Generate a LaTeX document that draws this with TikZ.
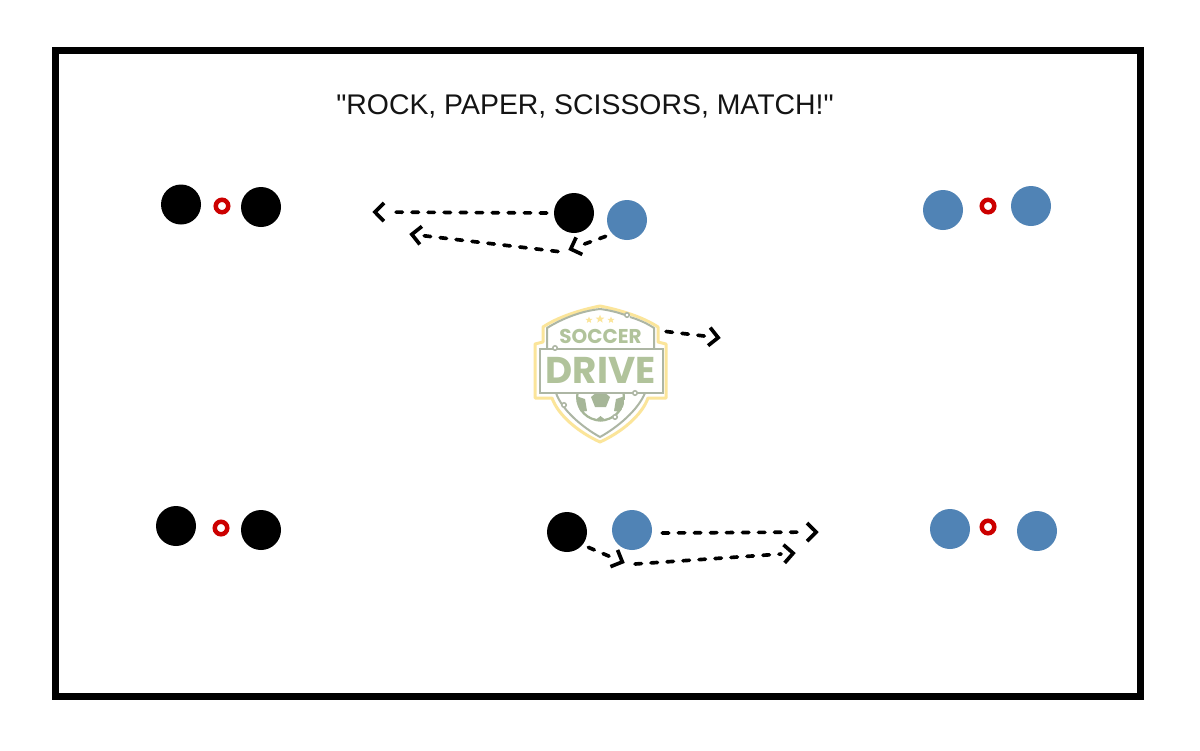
\documentclass[tikz,border=0pt]{standalone}
\usepackage{fontspec}
\newfontfamily\titlefont{Liberation Sans}
\newfontfamily\logofont{Poppins}
\usetikzlibrary{arrows.meta}
\newdimen\px \px=0.025cm
\definecolor{teamblue}{HTML}{5083B5}
\definecolor{conered}{HTML}{CC0000}
\definecolor{logoyellow}{HTML}{FBE59A}
\definecolor{logogray}{HTML}{ADB6A4}
\definecolor{logogreen}{HTML}{B1C39B}
\definecolor{logoball}{HTML}{A6B698}
\pgfdeclarearrow{
  name=Chev,
  parameters={\the\pgfarrowlength},
  setup code={
    \pgfarrowssettipend{0pt}
    \pgfarrowssetlineend{-1.25\pgfarrowlength}
    \pgfarrowssetvisualbackend{-\pgfarrowlength}
    \pgfarrowssetbackend{-\pgfarrowlength}
    \pgfarrowshullpoint{0pt}{0pt}
    \pgfarrowshullpoint{-\pgfarrowlength}{\pgfarrowlength}
    \pgfarrowshullpoint{-\pgfarrowlength}{-\pgfarrowlength}
    \pgfarrowssavethe\pgfarrowlength
  },
  drawing code={
    \pgfsetdash{}{0pt}
    \pgfsetbuttcap
    \pgfsetmiterjoin
    \pgfpathmoveto{\pgfpoint{-\pgfarrowlength}{0.76\pgfarrowlength}}
    \pgfpathlineto{\pgfpoint{-0.24\pgfarrowlength}{0pt}}
    \pgfpathlineto{\pgfpoint{-\pgfarrowlength}{-0.76\pgfarrowlength}}
    \pgfusepathqstroke
  },
  defaults={length=8.5pt}
}
\tikzset{
  x=0.025cm,y=-0.025cm,
  blackplayer/.style={circle,fill=black,draw=none,minimum size=40\px,inner sep=0pt},
  blueplayer/.style={circle,fill=teamblue,draw=none,minimum size=40\px,inner sep=0pt},
  cone/.style={circle,draw=conered,fill=white,line width=4.5\px,minimum size=12.5\px,inner sep=0pt},
  run/.style={line width=2.6pt,line cap=round,dash pattern=on 4.6pt off 6.8pt,-{Chev}},
  logoknob/.style={circle,draw=logogray,fill=white,line width=1.5\px,minimum size=4.5\px,inner sep=0pt},
  logostar/.style={fill=logoyellow,draw=none},
}
\begin{document}
\begin{tikzpicture}
\useasboundingbox (0,0) rectangle (1200,750);
\fill[white] (0,0) rectangle (1200,750);
\node[draw=black,line width=7\px,minimum width=1085\px,minimum height=646.5\px,inner sep=0pt] (frame) at (598,373.7) {};
\node[font=\titlefont\fontsize{20.2pt}{23pt}\selectfont,text=black!92] (title) at (585,106) {"ROCK, PAPER, SCISSORS, MATCH!"};

% logo: outer shield
\draw[logoyellow,line width=3\px,fill=white,line join=round]
  (600,306) .. controls (580,310) and (558,317) .. (543,327) -- (543,342) -- (535,344) -- (535,398) -- (552,398)
  .. controls (558,415) and (578,432) .. (600,442)
  .. controls (622,432) and (642,415) .. (648,398) -- (666,398) -- (666,344) -- (658,342) -- (658,327)
  .. controls (643,317) and (620,310) .. (600,306) -- cycle;
% logo: inner shield
\draw[logogray,line width=2\px,line join=round]
  (625,315) .. controls (617,312) and (608,310) .. (600,309) .. controls (582,311) and (563,318) .. (547,328) -- (547,350);
\draw[logogray,line width=2\px] (630,317) .. controls (640,320) and (648,324) .. (654,328) -- (654,350);
\draw[logogray,line width=2\px]
  (556,393) .. controls (562,410) and (582,427) .. (600,437) .. controls (618,427) and (638,410) .. (645,393);
% logo: ball
\begin{scope}
  \clip (600.5,397) circle (24.5);
  \fill[white] (575,385) rectangle (626,422);
  \draw[logoball,line width=2.5\px] (600.5,397) circle (23.5);
  \fill[logoball] (600.5,389) -- (610,397) -- (606,407) -- (595,407) -- (591,397) -- cycle;
  \fill[logoball] (576,396) -- (585,399) -- (587,411) -- (580,412) -- cycle;
  \fill[logoball] (625,396) -- (616,399) -- (614,411) -- (621,412) -- cycle;
  \fill[logoball] (600.5,416) -- (608,422) -- (593,422) -- cycle;
\end{scope}
% logo: banner
\draw[logogray,fill=white,line width=2\px] (540,348.5) rectangle (662.5,393);
% logo: text
\node[font=\logofont\bfseries\fontsize{14.2pt}{15pt}\selectfont,text=logogreen,inner sep=0pt] (soccer) at (600.5,336) {SOCCER};
\node[font=\logofont\bfseries\fontsize{26.5pt}{28pt}\selectfont,text=logogreen,inner sep=0pt] (drive) at (600.5,370.5) {DRIVE};
% logo: stars
\foreach \sx/\sy/\r in {589/320/3.4,600/319/4.2,611/320/3.4}{
  \fill[logostar] (\sx,\sy-\r)
    -- (\sx+0.29*\r,\sy-0.31*\r) -- (\sx+\r,\sy-0.31*\r) -- (\sx+0.47*\r,\sy+0.15*\r)
    -- (\sx+0.62*\r,\sy+0.85*\r) -- (\sx,\sy+0.42*\r) -- (\sx-0.62*\r,\sy+0.85*\r) -- (\sx-0.47*\r,\sy+0.15*\r)
    -- (\sx-\r,\sy-0.31*\r) -- (\sx-0.29*\r,\sy-0.31*\r) -- cycle;
}
% logo: circuit knobs
\node[logoknob] (k1) at (627,315) {};
\node[logoknob] (k2) at (555,348) {};
\node[logoknob] (k3) at (635,393) {};
\node[logoknob] (k4) at (564,405) {};
\node[logoknob] (k5) at (615,417) {};

% players and cones
\node[blackplayer] (b1) at (181,204.5) {};
\node[blackplayer] (b2) at (261,207) {};
\node[cone] (c1) at (222,206) {};
\node[blueplayer] (u1) at (943,210) {};
\node[blueplayer] (u2) at (1031,206) {};
\node[cone] (c2) at (988,206) {};
\node[blackplayer] (b3) at (176,526) {};
\node[blackplayer] (b4) at (261,530) {};
\node[cone] (c3) at (221,528) {};
\node[blueplayer] (u3) at (950,529) {};
\node[blueplayer] (u4) at (1037,531) {};
\node[cone] (c4) at (988,527) {};
\node[blackplayer] (tb) at (574,213) {};
\node[blueplayer] (tu) at (627,220) {};
\node[blackplayer] (bb) at (567,532) {};
\node[blueplayer] (bu) at (632,530) {};

% run end points
\coordinate (t1) at (372,212);
\coordinate (t2) at (568,250);
\coordinate (t2s) at (558,251.5);
\coordinate (t3) at (409,234);
\coordinate (l0) at (666,331.5);
\coordinate (l1) at (721,338);
\coordinate (e1) at (625,563);
\coordinate (e1s) at (635,564);
\coordinate (e2) at (796,553);
\coordinate (e3) at (819,532);

% runs
\draw[run] (tb.west) ++(-7,0) -- (t1);
\draw[run] (tu.south west) ++(-7,2) -- (t2);
\draw[run] (t2s) -- (t3);
\draw[run] (l0) -- (l1);
\draw[run] (bb.south east) ++(7,1) -- (e1);
\draw[run] (e1s) -- (e2);
\draw[run] (bu.east) ++(10,3) -- (e3);
\end{tikzpicture}
\end{document}
